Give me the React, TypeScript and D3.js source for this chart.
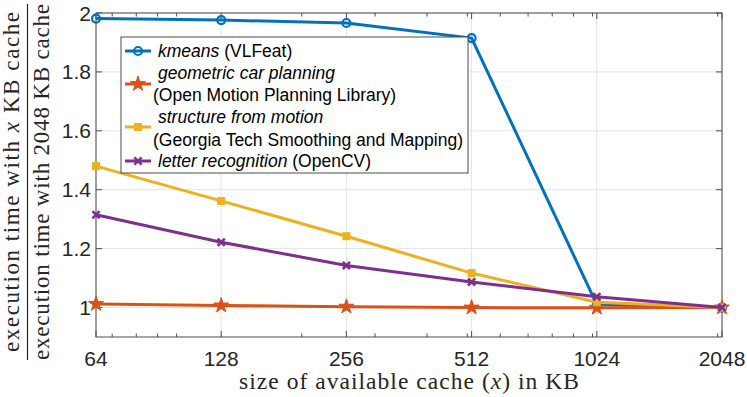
import React from 'react';
import * as d3 from 'd3';

// cache sizes in KB, log2 axis
const cacheSizes = [64, 128, 256, 512, 1024, 2048];
const kmeans = [1.981, 1.976, 1.966, 1.915, 1.01, 1.0];
const carPlanning = [1.012, 1.007, 1.003, 1.0, 0.999, 1.0];
const structureFromMotion = [1.48, 1.362, 1.242, 1.117, 1.018, 1.0];
const letterRecognition = [1.315, 1.222, 1.143, 1.087, 1.037, 1.0];

const xTicks = [64, 128, 256, 512, 1024, 2048];
const xMinorTicks = [70, 80, 90, 100, 200, 300, 400, 500, 600, 700, 800, 900, 1000, 2000];
const yTicks = [1, 1.2, 1.4, 1.6, 1.8, 2];

const W = 747;
const H = 397;
const M = { left: 96, right: 25, top: 13, bottom: 60 };

const SANS = '"Liberation Sans", Arial, sans-serif';
const SERIF = '"Liberation Serif", "Times New Roman", serif';
const AXIS = '#4d4d4d';
const GRID = '#e3e3e3';

const series = [
  { key: 'kmeans', values: kmeans, color: '#0072BD', marker: 'circle' },
  { key: 'car', values: carPlanning, color: '#D95319', marker: 'star' },
  { key: 'sfm', values: structureFromMotion, color: '#EDB120', marker: 'square' },
  { key: 'letter', values: letterRecognition, color: '#7E2F8E', marker: 'x' },
];

const Marker = ({ type, x, y, color }: { type: string; x: number; y: number; color: string }) => {
  if (type === 'circle')
    return <circle cx={x} cy={y} r={4} fill="none" stroke={color} strokeWidth={2.2} />;
  if (type === 'star')
    return (
      <path
        transform={`translate(${x},${y})`}
        d={d3.symbol(d3.symbolStar, 70)()!}
        fill={color}
        stroke={color}
        strokeWidth={1}
      />
    );
  if (type === 'square')
    return <rect x={x - 3.5} y={y - 3.5} width={7} height={7} fill={color} stroke={color} />;
  const s = 3.6;
  return (
    <path
      d={`M${x - s},${y - s}L${x + s},${y + s}M${x - s},${y + s}L${x + s},${y - s}`}
      stroke={color}
      strokeWidth={2.6}
      fill="none"
    />
  );
};

export default function App() {
  const x = d3.scaleLog().base(2).domain([64, 2048]).range([M.left, W - M.right]);
  const y = d3.scaleLinear().domain([0.9, 2]).range([H - M.bottom, M.top]);
  const x0 = M.left, x1 = W - M.right, y0 = H - M.bottom, y1 = M.top;

  const line = d3
    .line<number>()
    .x((_, i) => x(cacheSizes[i]))
    .y((d) => y(d));

  const lg = { x: 121, y: 37, w: 347, h: 136 };
  const sample = (cy: number, s: (typeof series)[number]) => (
    <g>
      <line x1={125} x2={151} y1={cy} y2={cy} stroke={s.color} strokeWidth={3} />
      <Marker type={s.marker} x={138} y={cy} color={s.color} />
    </g>
  );

  return (
    <svg width={W} height={H} style={{ position: 'absolute', left: 0, top: 0 }}>
      <rect width={W} height={H} fill="#fff" />
      {/* grid */}
      {xTicks.map((t) => (
        <line key={'gx' + t} x1={x(t)} x2={x(t)} y1={y0} y2={y1} stroke={GRID} />
      ))}
      {yTicks.map((t) => (
        <line key={'gy' + t} x1={x0} x2={x1} y1={y(t)} y2={y(t)} stroke={GRID} />
      ))}
      {/* ticks on all four sides */}
      {xTicks.map((t) => (
        <g key={'tx' + t} stroke={AXIS}>
          <line x1={x(t)} x2={x(t)} y1={y0} y2={y0 - 6} />
          <line x1={x(t)} x2={x(t)} y1={y1} y2={y1 + 6} />
        </g>
      ))}
      {xMinorTicks.map((t) => (
        <g key={'mx' + t} stroke={AXIS}>
          <line x1={x(t)} x2={x(t)} y1={y0} y2={y0 - 3.5} />
          <line x1={x(t)} x2={x(t)} y1={y1} y2={y1 + 3.5} />
        </g>
      ))}
      {yTicks.map((t) => (
        <g key={'ty' + t} stroke={AXIS}>
          <line x1={x0} x2={x0 + 6} y1={y(t)} y2={y(t)} />
          <line x1={x1} x2={x1 - 6} y1={y(t)} y2={y(t)} />
        </g>
      ))}
      <rect x={x0} y={y1} width={x1 - x0} height={y0 - y1} fill="none" stroke={AXIS} />

      {/* tick labels */}
      {xTicks.map((t) => (
        <text key={'lx' + t} x={x(t)} y={366} textAnchor="middle" fontFamily={SANS} fontSize={21} fill="#262626">
          {t}
        </text>
      ))}
      {yTicks.map((t) => (
        <text key={'ly' + t} x={x0 - 5} y={y(t) + 7.5} textAnchor="end" fontFamily={SANS} fontSize={21} fill="#262626">
          {d3.format('~g')(t)}
        </text>
      ))}

      {/* axis labels */}
      <text
        x={(x0 + x1) / 2}
        y={389}
        textAnchor="middle"
        fontFamily={SERIF}
        fontSize={23.5}
        fill="#262626"
        textLength={340}
        lengthAdjust="spacing"
      >
        size of available cache (<tspan fontStyle="italic">x</tspan>) in KB
      </text>
      <g transform="translate(0,182) rotate(-90)" fontFamily={SERIF} fontSize={23} fill="#262626">
        <text x={0} y={19} textAnchor="middle" textLength={340} lengthAdjust="spacing">
          execution time with <tspan fontStyle="italic">x</tspan> KB cache
        </text>
        <line x1={-178} x2={178} y1={27.5} y2={27.5} stroke="#262626" strokeWidth={1.2} />
        <text x={0} y={49} textAnchor="middle" textLength={356} lengthAdjust="spacing">
          execution time with 2048 KB cache
        </text>
      </g>

      {/* series */}
      {series.map((s) => (
        <g key={s.key}>
          <path d={line(s.values)!} fill="none" stroke={s.color} strokeWidth={3} />
          {s.values.map((v, i) => (
            <Marker key={i} type={s.marker} x={x(cacheSizes[i])} y={y(v)} color={s.color} />
          ))}
        </g>
      ))}

      {/* legend */}
      <rect x={lg.x} y={lg.y} width={lg.w} height={lg.h} fill="#fff" stroke={AXIS} />
      <g fontFamily={SANS} fontSize={17.5} fill="#000">
        {sample(51, series[0])}
        <text x={158} y={57}>
          <tspan fontStyle="italic">kmeans</tspan> (VLFeat)
        </text>
        {sample(84, series[1])}
        <text x={158} y={79} fontStyle="italic">geometric car planning</text>
        <text x={153} y={101}>(Open Motion Planning Library)</text>
        {sample(127, series[2])}
        <text x={158} y={123} fontStyle="italic">structure from motion</text>
        <text x={153} y={146}>(Georgia Tech Smoothing and Mapping)</text>
        {sample(161, series[3])}
        <text x={158} y={167}>
          <tspan fontStyle="italic">letter recognition</tspan> (OpenCV)
        </text>
      </g>
    </svg>
  );
}
